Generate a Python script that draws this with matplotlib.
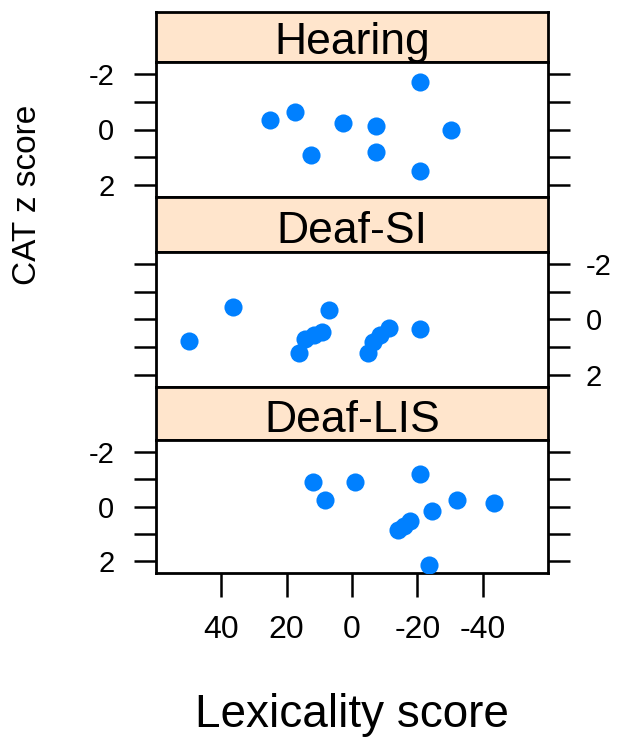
import matplotlib
matplotlib.use("Agg")
import matplotlib.pyplot as plt

plt.rcParams['font.family'] = ['Liberation Sans', 'DejaVu Sans']

# ---- data ----
groups = ['Hearing', 'Deaf-SI', 'Deaf-LIS']

hearing_lex = [-20.9, 25.2, 17.3, 2.7, -7.4, -30.2, 12.7, -7.4, -20.9]
hearing_cat = [-1.72, -0.36, -0.63, -0.24, -0.12, 0.0, 0.93, 0.81, 1.49]

deafsi_lex = [50.0, 36.5, 7.0, 16.3, 14.5, 11.5, 9.3, -5.0, -6.5, -8.5, -11.2, -20.9]
deafsi_cat = [0.79, -0.46, -0.34, 1.2, 0.7, 0.55, 0.47, 1.2, 0.8, 0.55, 0.31, 0.35]

deaflis_lex = [11.9, 8.3, -0.9, -20.9, -24.5, -32.2, -43.5, -14.2, -16.0, -17.8, -23.5]
deaflis_cat = [-0.91, -0.25, -0.91, -1.18, 0.15, -0.25, -0.12, 0.85, 0.7, 0.55, 2.15]

x_ticks = [40, 20, 0, -20, -40]
y_ticks = [-2, -1, 0, 1, 2]
y_ticklabels = ['-2', '', '0', '', '2']

series = {
    'Hearing': (hearing_lex, hearing_cat),
    'Deaf-SI': (deafsi_lex, deafsi_cat),
    'Deaf-LIS': (deaflis_lex, deaflis_cat),
}

# ---- layout (pixels) ----
W, H = 633, 743
L, R = 156, 548
rows = [(12, 62, 197), (197, 252, 387), (387, 440, 573)]  # strip top, panel top, panel bottom
label_side = ['left', 'right', 'left']

fig = plt.figure(figsize=(W / 100, H / 100), dpi=100)

strip_col = '#FFE5CC'
pt_col = '#0080FF'
lw = 2.0

for i, g in enumerate(groups):
    s0, s1, p1 = rows[i]
    # strip
    sax = fig.add_axes([L / W, 1 - s1 / H, (R - L) / W, (s1 - s0) / H])
    sax.set_facecolor(strip_col)
    sax.set_xticks([]); sax.set_yticks([])
    for sp in sax.spines.values():
        sp.set_linewidth(lw)
    sax.text(0.5, 0.16, g, transform=sax.transAxes, ha='center', va='baseline',
             fontsize=32)
    # panel
    ax = fig.add_axes([L / W, 1 - p1 / H, (R - L) / W, (p1 - s1) / H])
    xs, ys = series[g]
    ax.scatter(xs, ys, s=170, color=pt_col, linewidths=0, zorder=3)
    ax.set_xlim(60, -60)
    ax.set_ylim(2.45, -2.45)
    for sp in ax.spines.values():
        sp.set_linewidth(lw)
    ax.set_yticks(y_ticks)
    ax.set_yticklabels(y_ticklabels)
    left_lab = label_side[i] == 'left'
    ax.tick_params(axis='y', left=True, right=True, labelleft=left_lab,
                   labelright=not left_lab, length=16, width=1.8,
                   direction='out', labelsize=21, pad=14 if left_lab else 11)
    if i == len(groups) - 1:
        ax.set_xticks(x_ticks)
        ax.set_xticklabels([str(v) for v in x_ticks])
        ax.tick_params(axis='x', bottom=True, top=False, length=17, width=1.8,
                       direction='out', labelsize=23, pad=13)
    else:
        ax.set_xticks([])

fig.text(27 / W, 1 - 195 / H, 'CAT z score', rotation=90, ha='center',
         va='center', fontsize=24)
fig.text(352 / W, 1 - 727 / H, 'Lexicality score', ha='center',
         va='baseline', fontsize=33)

fig.savefig('out.png', dpi=100, facecolor='white')
